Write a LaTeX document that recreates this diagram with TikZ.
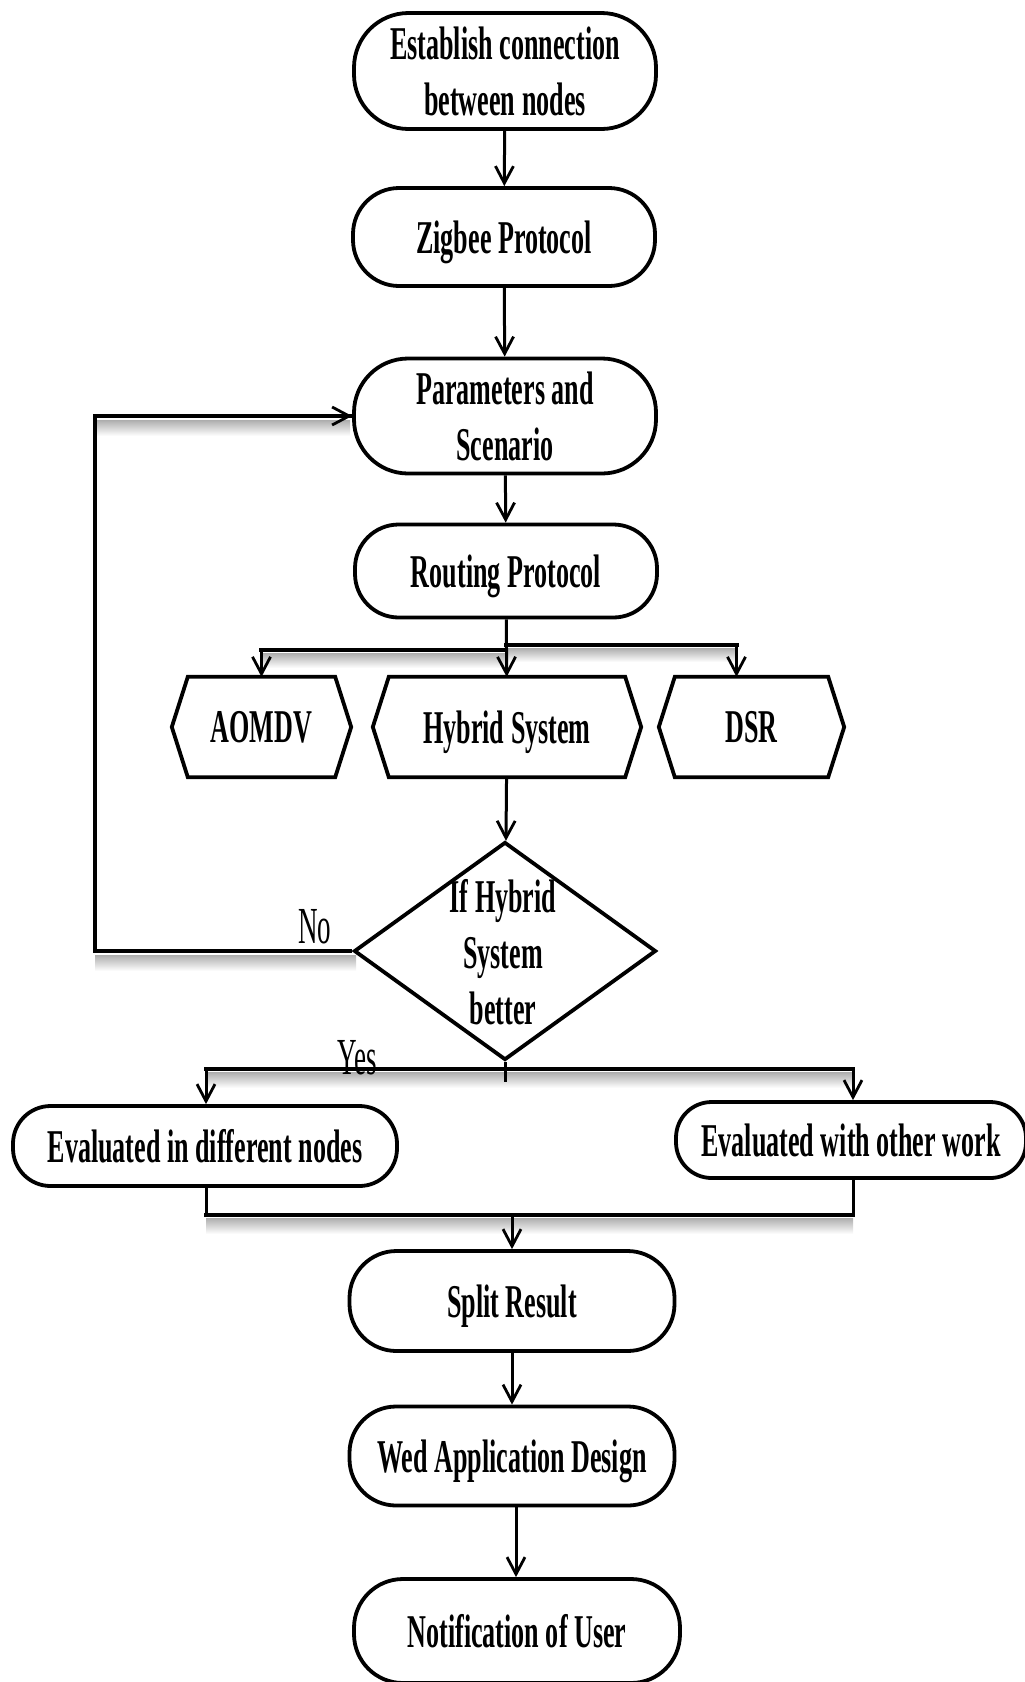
\documentclass[tikz,border=0pt]{standalone}
\usepackage{fontspec}
\setmainfont{Liberation Serif}
\newfontfamily\flowfont[FakeStretch=0.555]{Liberation Serif}
\newfontfamily\tagfont[FakeStretch=0.52]{Liberation Serif}
\usetikzlibrary{arrows.meta,shapes.geometric}

\tikzset{
  boxfont/.style={font=\flowfont\bfseries\fontsize{47pt}{56pt}\selectfont},
  stad/.style 2 args={draw, line width=3.8pt, rectangle, align=center, inner sep=0pt,
    boxfont, text depth=0pt, minimum width=#1, minimum height=#2, rounded corners=0.47*#2},
  hexn/.style 2 args={rectangle, align=center, inner sep=0pt, boxfont, text depth=0pt,
    minimum width=#1, minimum height=#2},
  hexline/.style={draw, line width=3.8pt, line join=miter},
  tip/.style={-{Straight Barb[length=17pt,width=18pt,line width=2.8pt]}},
  vline/.style={line width=3pt},
  arr/.style={vline, tip},
  hline/.style={line width=4.6pt, line cap=rect},
  tagtext/.style={font=\tagfont\fontsize{52pt}{60pt}\selectfont, inner sep=0pt},
  shadow/.style={top color=black!32, bottom color=white, draw=none},
}

\begin{document}
\begin{tikzpicture}[x=1pt,y=-1pt]
\useasboundingbox (0,0) rectangle (1025,1682);

% soft shadows under the horizontal connectors
\shade[shadow] (95,420) rectangle (350,436);
\shade[shadow] (95,955) rectangle (356,971);
\shade[shadow] (262,653) rectangle (506,668);
\shade[shadow] (506,648) rectangle (736,662);
\shade[shadow] (206,1072) rectangle (853,1088);
\shade[shadow] (206,1218) rectangle (853,1234);

% process boxes
\node[stad={302pt}{116pt}] (est) at (505,71) {Establish connection\\between nodes};
\node[stad={302pt}{98pt}] (zig) at (504,237) {Zigbee Protocol};
\node[stad={302pt}{115pt}] (par) at (505,416) {Parameters and\\Scenario};
\node[stad={302pt}{93pt}] (rout) at (506,571) {Routing Protocol};

% protocol choices (hexagons)
\node[hexn={147pt}{100pt}] (aom) at (261.5,727) {AOMDV};
\node[hexn={236pt}{100pt}] (hyb) at (507,727) {Hybrid System};
\node[hexn={153pt}{100pt}] (dsr) at (751.5,727) {DSR};
\foreach \n in {aom,hyb,dsr}
  \draw[hexline] (\n.north west) -- (\n.north east) -- ([xshift=16pt]\n.east)
    -- (\n.south east) -- (\n.south west) -- ([xshift=-16pt]\n.west) -- cycle;

% decision
\node[draw, diamond, line width=3.8pt, inner sep=0pt, minimum width=302pt,
      minimum height=218pt] (dia) at (505,951) {};
\node[boxfont, align=center, inner sep=0pt, text depth=0pt] (diatext) at (503,952)
  {If Hybrid\\System\\better};

% evaluation and output boxes
\node[stad={384pt}{80pt}] (ev1) at (205,1146) {Evaluated in different nodes};
\node[stad={350pt}{76pt}] (ev2) at (851,1140) {Evaluated with other work};
\node[stad={325pt}{100pt}] (split) at (512,1301) {Split Result};
\node[stad={325pt}{99pt}] (wed) at (512,1456) {Wed Application Design};
\node[stad={326pt}{104pt}] (notif) at (517,1631) {Notification of User};

% branch labels
\node[tagtext, anchor=base west] (no) at (298,943) {No};
\node[tagtext, anchor=base west] (yes) at (337,1074) {Yes};

% main flow
\draw[arr] (est) -- (zig);
\draw[arr] (zig) -- (par);
\draw[arr] (par) -- (rout);
\draw[arr] (rout) -- (hyb);

% fan out to the three protocols
\coordinate (bl) at (506,650);
\coordinate (br) at (506,645);
\coordinate (dsrin) at ([xshift=-15pt]dsr.north);
\draw[hline] (bl) -- (bl -| aom.north);
\draw[arr] (bl -| aom.north) -- (aom.north);
\draw[hline] (br) -- (br -| dsrin);
\draw[arr] (br -| dsrin) -- (dsrin);

\draw[arr] (hyb) -- (dia);

% "No" loop back to the parameters
\coordinate (loop) at (95,951);
\draw[hline, line cap=butt] (dia.west) -- (loop) |- (par.west);
\draw[tip, line width=4.6pt] ([xshift=-20pt]par.west) -- (par.west);

% "Yes" fan out
\coordinate (yl) at (206,1069);
\coordinate (yr) at (853,1069);
\draw[vline] (dia.south) -- ++(0,20);
\draw[hline] (yl) -- (yr);
\draw[arr] (yl) -- (yl |- ev1.north);
\draw[arr] (yr) -- (yr |- ev2.north);

% merge of both evaluations
\coordinate (ml) at (206,1215);
\coordinate (mr) at (853,1215);
\draw[vline] (ml |- ev1.south) -- (ml);
\draw[vline] (mr |- ev2.south) -- (mr);
\draw[hline] (ml) -- (mr);
\draw[arr] (split.north |- ml) -- (split.north);

\draw[arr] (split) -- (wed);
\draw[arr] ([xshift=4pt]wed.south) -- ([xshift=-1pt]notif.north);
\end{tikzpicture}
\end{document}
